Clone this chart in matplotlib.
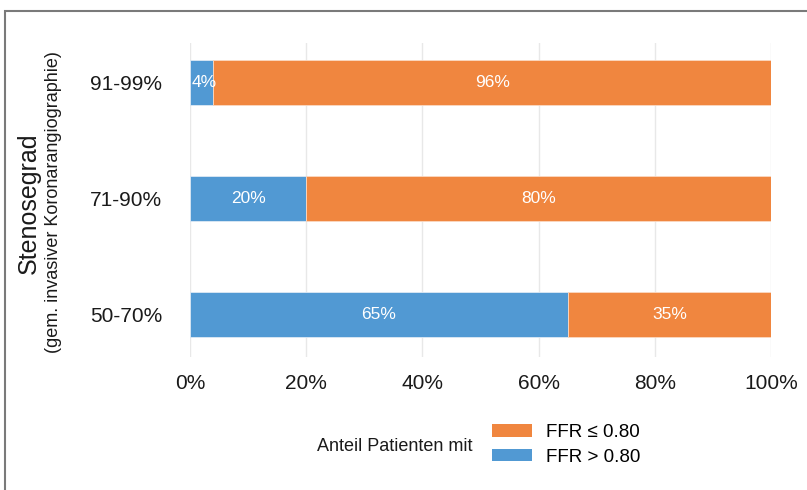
import numpy as np
import matplotlib.pyplot as plt
from matplotlib.patches import Patch, Rectangle

plt.rcParams['font.family'] = ['Liberation Sans', 'DejaVu Sans']

# data
categories = ['50-70%', '71-90%', '91-99%']
ffr_high = [65, 20, 4]     # FFR > 0.80
ffr_low = [35, 80, 96]     # FFR <= 0.80
x_ticks = [0, 20, 40, 60, 80, 100]
x_ticklabels = ['0%', '20%', '40%', '60%', '80%', '100%']

blue = '#5199D3'
orange = '#F0863F'

W, H = 807, 490
fig = plt.figure(figsize=(W / 100, H / 100), dpi=100)

# outer frame (top and left visible)
fig.patches.append(Rectangle((5 / W, -0.05), 1.2, 1 - 11 / H + 0.05,
                             transform=fig.transFigure, fill=False,
                             edgecolor='#7a7a7a', lw=1.5))

ax = fig.add_axes([190 / W, 1 - 357 / H, (771 - 190) / W, (357 - 43) / H])

y = np.arange(len(categories))
h = 0.39
ax.barh(y, ffr_high, height=h, color=blue, edgecolor='#dde9f5', lw=0.6, zorder=2)
ax.barh(y, ffr_low, left=ffr_high, height=h, color=orange,
        edgecolor='#fbd9c2', lw=0.6, zorder=2)

for yi, a, b in zip(y, ffr_high, ffr_low):
    # narrow segment: label starts at the bar edge
    if a < 8:
        ax.text(0.3, yi, f'{a}%', color='white', ha='left', va='center',
                fontsize=12.5, zorder=3)
    else:
        ax.text(a / 2, yi, f'{a}%', color='white', ha='center', va='center',
                fontsize=12.5, zorder=3)
    ax.text(a + b / 2, yi, f'{b}%', color='white', ha='center', va='center',
            fontsize=12.5, zorder=3)

ax.set_xlim(0, 100)
ax.set_ylim(-0.37, 2.34)
ax.set_xticks(x_ticks)
ax.set_xticklabels(x_ticklabels, fontsize=15, color='#1a1a1a')
ax.set_yticks(y)
ax.set_yticklabels(categories, fontsize=15, color='#1a1a1a')
ax.tick_params(axis='x', length=0, pad=12)
ax.tick_params(axis='y', length=0, pad=20)
ax.grid(axis='x', color='#e8e8e8', lw=1, zorder=0)
for s in ax.spines.values():
    s.set_visible(False)

# y axis title
fig.text(29 / W, 1 - 203 / H, 'Stenosegrad', rotation=90, fontsize=18,
         ha='center', va='center', color='#1a1a1a')
fig.text(54 / W, 1 - 202 / H, '(gem. invasiver Koronarangiographie)', rotation=90,
         fontsize=13, ha='center', va='center', color='#1a1a1a')

# legend
fig.text(473 / W, 1 - 446 / H, 'Anteil Patienten mit', fontsize=13,
         ha='right', va='center', color='#1a1a1a')
handles = [Patch(facecolor=orange, label='FFR ≤ 0.80'),
           Patch(facecolor=blue, label='FFR > 0.80')]
fig.legend(handles=handles, loc='center left', bbox_to_anchor=(492 / W, 1 - 445 / H),
           frameon=False, fontsize=13.5, handlelength=2.15, handleheight=0.62,
           labelspacing=0.42, handletextpad=0.75, borderpad=0, borderaxespad=0)

fig.savefig('out.png', dpi=100)
